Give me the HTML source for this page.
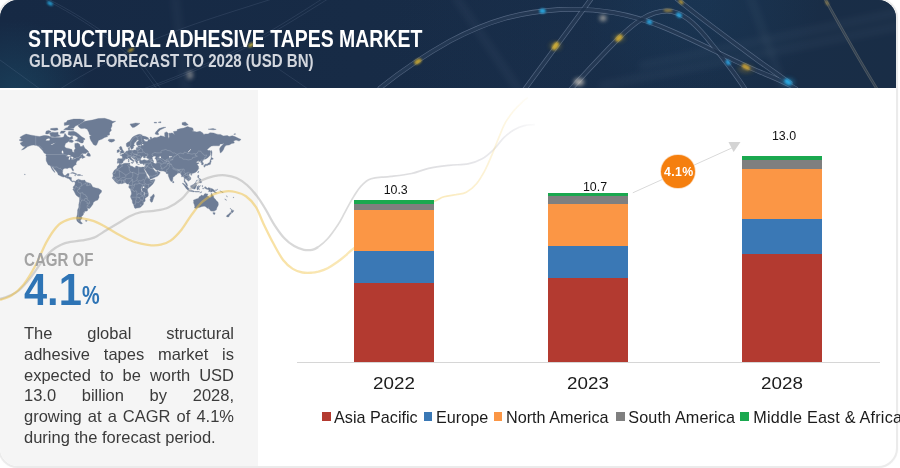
<!DOCTYPE html>
<html><head><meta charset="utf-8">
<style>
html,body{margin:0;padding:0;background:#fff;overflow:hidden;}
html{width:900px;height:468px;}
body{width:900px;height:468px;position:relative;overflow:hidden;font-family:"Liberation Sans",sans-serif;}
.card{position:absolute;left:-2px;top:-2px;width:896.4px;height:465.6px;border-radius:20px;border:2px solid #ebebeb;overflow:hidden;background:#fff;box-shadow:0 0 2px rgba(0,0,0,.04);}
.hdr{position:absolute;left:0;top:0;width:900px;height:88px;background:#182c47;}
.panel{position:absolute;left:0;top:90px;width:258px;height:380px;background:#f5f5f5;}
.t1{position:absolute;left:27.5px;top:25.8px;font-weight:bold;font-size:24px;line-height:26px;color:#fff;white-space:nowrap;transform-origin:0 0;transform:scaleX(.811);}
.t2{position:absolute;left:28.5px;top:50.6px;font-weight:bold;font-size:18px;line-height:20px;color:#d3d7de;white-space:nowrap;transform-origin:0 0;transform:scaleX(.836);}
.cagr{position:absolute;left:24px;top:249px;font-weight:bold;font-size:18.5px;line-height:22px;color:#a3a3a3;white-space:nowrap;transform-origin:0 0;transform:scaleX(.815);}
.big{position:absolute;left:24px;top:264.3px;font-weight:bold;font-size:44px;line-height:52px;color:#2e74b5;white-space:nowrap;transform-origin:0 0;transform:scaleX(.945);}
.pct{position:absolute;left:82.3px;top:279.3px;font-weight:bold;font-size:25px;line-height:32px;color:#2e74b5;transform-origin:0 0;transform:scaleX(.795);}
.body{position:absolute;left:24px;top:323px;width:210px;font-size:16.5px;line-height:20.8px;color:#3b3b3b;white-space:nowrap;}
.body .j{text-align:justify;text-align-last:justify;white-space:normal;}
.bar{position:absolute;width:80px;}
.seg{position:absolute;left:0;width:80px;}
.axis{position:absolute;left:296.5px;top:361.6px;width:583px;height:1.2px;background:#d6d6d6;}
.yl{position:absolute;top:375.2px;width:80px;text-align:center;font-size:15.8px;line-height:18px;color:#1c1c1c;transform:scaleX(1.19);}
.vl{position:absolute;width:80px;text-align:center;font-size:12.4px;line-height:14px;color:#111;}
.lg{position:absolute;top:407.5px;font-size:16.2px;line-height:18px;color:#1c1c1c;white-space:nowrap;transform-origin:0 0;}
.sq{position:absolute;top:412.4px;width:8.5px;height:8.5px;}
.c1{background:#b33a30}.c2{background:#3a78b5}.c3{background:#fb9645}.c4{background:#7f7f7f}.c5{background:#1aa84f}
svg{position:absolute;left:0;top:0;}
.badge{position:absolute;left:661.2px;top:154.6px;width:33.6px;height:33.6px;border-radius:50%;background:#f57f0e;box-shadow:0 0 0 .8px #fbd9b8;color:#fff;font-weight:bold;font-size:12.3px;line-height:34px;text-align:center;letter-spacing:.35px;text-indent:1.6px;}
</style></head><body>
<div class="card">
<div class="hdr"><svg id="hs" width="900" height="88" viewBox="0 0 900 88">
<defs>
<linearGradient id="hb" x1="0" y1="0" x2="1" y2="0"><stop offset="0" stop-color="#162944"/><stop offset=".4" stop-color="#172b46"/><stop offset=".68" stop-color="#182d48"/><stop offset="1" stop-color="#192d46"/></linearGradient>
<radialGradient id="hg1" cx="700" cy="-5" r="120" gradientUnits="userSpaceOnUse"><stop offset="0" stop-color="#1d4f78" stop-opacity=".22"/><stop offset="1" stop-color="#1f5a86" stop-opacity="0"/></radialGradient>
<radialGradient id="hg2" cx="560" cy="40" r="170" gradientUnits="userSpaceOnUse"><stop offset="0" stop-color="#26456a" stop-opacity=".06"/><stop offset="1" stop-color="#244a78" stop-opacity="0"/></radialGradient>
<radialGradient id="hg3" cx="15" cy="95" r="75" gradientUnits="userSpaceOnUse"><stop offset="0" stop-color="#1f5d78" stop-opacity=".4"/><stop offset="1" stop-color="#1f5d78" stop-opacity="0"/></radialGradient>
<filter id="b1" x="-100%" y="-100%" width="300%" height="300%"><feGaussianBlur stdDeviation="1.1"/></filter>
<filter id="b2" x="-100%" y="-100%" width="300%" height="300%"><feGaussianBlur stdDeviation="2.2"/></filter>
<filter id="b4" x="-50%" y="-50%" width="200%" height="200%"><feGaussianBlur stdDeviation="3.5"/></filter>
</defs>
<rect width="900" height="88" fill="url(#hb)"/>
<rect width="900" height="88" fill="url(#hg2)"/>
<rect width="900" height="88" fill="url(#hg1)"/><rect width="900" height="88" fill="url(#hg3)"/>
<g fill="none" stroke="#8a9ab0" stroke-opacity=".10" stroke-width="5" filter="url(#b4)">
<path d="M640,66 L900,12"/><path d="M600,86 L900,26"/><path d="M750,-4 L785,92"/><path d="M175,-4 L186,92"/><path d="M455,-4 L520,92"/>
</g>
<g fill="none" stroke-linecap="round">
<g stroke="#a9bad4" stroke-opacity=".40" stroke-width="4.8">
<path id="a1" d="M380,88 C400,72 425,55 450,41 C490,20 520,12 560,9.5 C600,8 630,14 660,26 C700,42 730,60 760,72 C775,78 788,83 796,89"/>
<path id="a3" d="M571,89 C590,68 605,52 619,38 C635,22 650,11 667,11 C682,11 695,24 706,37 C718,52 733,70 745,89"/>
<path id="a2" d="M525,89 L591,-1"/>
<path id="a4" d="M677,-1 C700,18 730,40 760,62 C772,70 782,78 790,83"/>
</g>
<g stroke="#1a2e49" stroke-opacity=".82" stroke-width="3.5">
<use href="#a1"/><use href="#a3"/><use href="#a2"/><use href="#a4"/>
</g>
<g stroke="#9a9688" stroke-opacity=".42" stroke-width="2.8"><path id="a5" d="M825,-1 C840,26 858,58 877,89"/></g>
<g stroke="#1b3049" stroke-opacity=".55" stroke-width="1.2"><use href="#a5"/></g>
<g stroke="#a9bbd6" stroke-opacity=".16" stroke-width=".8">
<path d="M44,-1 C70,12 110,36 140,66 L157,89"/><path d="M48,-1 C74,12 114,36 144,66 L161,89"/>
<path d="M60,89 C90,70 115,58 135,48 C170,32 200,22 228,13 L272,-1"/>
<path d="M148,89 C190,74 225,58 251,45 C285,26 310,10 328,-1"/><path d="M143,89 C185,74 220,58 246,45 C280,26 305,10 322,-1"/>
<path d="M258,55 L308,89"/><path d="M0,60 L40,89"/>
</g>
</g>
<g filter="url(#b1)" opacity=".85">
<ellipse cx="50" cy="3.5" rx="3.2" ry="1.8" fill="#27b4ee" transform="rotate(28 50 3.5)"/>
<ellipse cx="542.5" cy="11" rx="3.2" ry="2.5" fill="#2bb6f2"/>
<ellipse cx="649.5" cy="22" rx="3" ry="2.3" fill="#2bb0ee" transform="rotate(25 649.5 22)"/>
<ellipse cx="679" cy="15" rx="3.2" ry="2.3" fill="#2bb0ee" transform="rotate(35 679 15)"/>
<ellipse cx="728" cy="62.5" rx="3" ry="2.2" fill="#2aa6e6" transform="rotate(55 728 62.5)"/>
<ellipse cx="788" cy="82" rx="4" ry="2.5" fill="#2bb6f2" transform="rotate(35 788 82)"/>
<ellipse cx="131" cy="50" rx="3.2" ry="1.5" fill="#d8b22e" transform="rotate(-27 131 50)"/>
<ellipse cx="251" cy="45" rx="3.2" ry="1.6" fill="#d9bd3a" transform="rotate(-30 251 45)"/>
<ellipse cx="418" cy="61.5" rx="4" ry="2.3" fill="#d9b22e" transform="rotate(-33 418 61.5)"/>
<ellipse cx="555.5" cy="46" rx="4.6" ry="2.7" fill="#e0b930" transform="rotate(-54 555.5 46)"/>
<ellipse cx="619" cy="38" rx="4.2" ry="2.6" fill="#dcb330" transform="rotate(-45 619 38)"/>
<ellipse cx="746" cy="67" rx="4.4" ry="2.4" fill="#d6aa34" transform="rotate(28 746 67)"/>
<ellipse cx="668" cy="10.5" rx="4.5" ry="1.4" fill="#c9a23c" fill-opacity=".8"/>
<ellipse cx="681" cy="2" rx="3" ry="1.5" fill="#d4ac36" transform="rotate(40 681 2)"/>
<ellipse cx="827" cy="3" rx="3" ry="1.4" fill="#b79a48" fill-opacity=".7" transform="rotate(60 827 3)"/>
</g>
<g filter="url(#b2)">
<ellipse cx="603" cy="18" rx="3.2" ry="2.6" fill="#e9dccb" fill-opacity=".8"/>
<ellipse cx="579" cy="82" rx="5" ry="3.5" fill="#e6dccd" fill-opacity=".75"/>
<ellipse cx="190" cy="75" rx="3" ry="4" fill="#cfc8bd" fill-opacity=".55"/>
<ellipse cx="555.5" cy="46" rx="6" ry="4" fill="#e7bf2c" fill-opacity=".25"/>
<ellipse cx="619" cy="38" rx="6" ry="4" fill="#e7bf2c" fill-opacity=".22"/>
<ellipse cx="746" cy="69" rx="8" ry="4" fill="#c79a2a" fill-opacity=".25"/>
<ellipse cx="788" cy="82" rx="7" ry="4" fill="#2bb6f2" fill-opacity=".3"/>
</g>
</svg></div>
<div class="panel"></div>
<svg width="900" height="468" viewBox="0 0 900 468">
<defs>
<linearGradient id="gy" gradientUnits="userSpaceOnUse" x1="0" y1="0" x2="530" y2="0"><stop offset="0" stop-color="#f0c040" stop-opacity=".5"/><stop offset=".48" stop-color="#f0c040" stop-opacity=".5"/><stop offset=".62" stop-color="#f2c64c" stop-opacity=".42"/><stop offset=".84" stop-color="#f4cc5c" stop-opacity=".4"/><stop offset=".95" stop-color="#f6d470" stop-opacity=".22"/><stop offset="1" stop-color="#f6d470" stop-opacity=".04"/></linearGradient>
<linearGradient id="gg" gradientUnits="userSpaceOnUse" x1="0" y1="0" x2="540" y2="0"><stop offset="0" stop-color="#adadad" stop-opacity=".5"/><stop offset=".48" stop-color="#adadad" stop-opacity=".5"/><stop offset=".62" stop-color="#b0b0b0" stop-opacity=".46"/><stop offset=".84" stop-color="#b4b4bc" stop-opacity=".4"/><stop offset=".95" stop-color="#b8b8c2" stop-opacity=".24"/><stop offset="1" stop-color="#c0c0c8" stop-opacity=".04"/></linearGradient>
</defs>
<g id="map"><path fill="#6d7c95" stroke="#6d7c95" stroke-width=".35" stroke-linejoin="round" d="M19.0,140.0 21.5,139.1 19.9,137.3 23.3,135.2 26.1,134.1 30.2,135.0 35.7,135.9 39.5,136.6 43.8,135.5 45.7,135.5 48.8,136.0 51.9,137.6 56.2,137.6 61.2,137.6 63.6,137.1 64.9,133.3 67.4,136.6 69.8,137.6 72.3,136.0 72.9,138.6 69.8,139.6 68.6,141.6 65.5,143.5 64.6,146.2 65.8,147.9 68.6,148.4 72.0,149.6 72.3,151.7 74.2,152.5 74.2,150.1 75.4,148.8 74.8,146.6 74.8,143.5 77.9,143.0 79.8,144.4 80.1,146.6 82.2,146.4 83.2,145.0 85.0,148.4 87.2,150.1 88.8,152.1 86.9,152.5 86.0,153.5 82.2,153.5 80.4,154.9 82.9,154.3 83.2,156.0 85.3,157.1 83.5,157.9 82.2,158.6 82.2,157.5 81.6,157.7 79.8,158.4 79.3,159.4 79.8,159.9 77.3,160.8 76.3,162.6 76.0,163.3 76.3,164.5 74.8,165.3 72.9,167.0 72.8,168.3 73.6,170.1 73.3,171.1 72.4,170.6 71.8,169.3 71.1,168.0 69.8,167.8 68.0,167.9 67.7,168.6 66.7,168.4 64.9,168.2 63.0,169.3 62.7,171.2 62.5,172.8 63.6,175.0 64.6,175.5 66.1,175.3 67.0,173.8 69.2,173.5 68.9,175.3 68.3,176.9 69.8,177.0 71.4,177.5 71.4,180.0 72.3,181.2 73.9,180.9 75.1,181.5 75.4,181.5 76.3,180.3 77.9,179.6 78.8,179.1 78.8,180.0 79.8,179.5 81.0,180.3 83.5,180.3 84.7,180.1 85.3,181.2 86.9,182.4 89.1,183.0 90.9,183.7 92.2,186.0 92.2,186.6 93.4,187.2 95.9,188.1 98.4,188.4 100.2,189.6 101.5,190.5 101.5,192.0 100.2,193.6 99.0,195.1 99.0,197.6 97.7,200.1 95.6,200.8 93.4,202.3 92.9,204.2 90.9,206.9 89.7,208.4 87.8,208.2 87.0,207.9 87.8,209.6 87.2,211.0 84.7,211.3 84.4,212.8 82.9,212.8 83.8,213.8 82.5,215.7 81.3,216.4 82.2,217.9 80.4,220.3 80.7,221.5 82.5,223.4 81.0,224.1 78.8,222.7 77.0,221.1 76.3,217.9 77.3,214.9 77.6,212.0 77.6,209.9 78.8,207.2 78.8,204.6 79.5,201.3 79.6,197.8 76.7,195.7 75.7,194.5 74.5,192.0 73.6,190.5 72.8,189.3 73.6,188.4 73.1,187.2 73.6,186.3 74.2,185.7 75.1,184.2 75.1,182.4 73.9,181.3 72.9,182.1 71.7,181.5 70.5,180.6 69.8,179.6 68.9,178.7 67.4,178.2 65.8,177.5 64.6,176.8 63.3,177.1 61.8,176.5 59.9,175.6 58.1,174.7 57.8,173.5 57.1,172.2 55.6,170.6 53.7,168.6 53.1,167.2 52.0,167.0 52.2,168.0 53.4,169.6 54.8,171.7 55.0,172.5 53.7,171.4 52.2,169.6 51.4,168.0 50.6,166.3 49.7,165.3 48.4,164.9 47.5,163.4 47.2,162.7 46.3,160.9 46.1,159.0 46.3,156.6 45.8,154.9 46.9,154.5 44.1,152.9 42.6,150.5 40.7,148.4 38.8,146.6 36.4,145.5 33.3,145.0 31.4,145.3 29.2,146.0 27.7,146.6 25.8,147.9 24.0,149.2 21.5,149.9 22.7,148.8 25.2,146.6 22.7,146.2 20.9,144.4 20.2,143.0 23.3,141.6 20.9,141.1ZM73.6,131.3 76.0,132.2 79.1,134.4 81.3,136.6 84.7,138.6 85.0,139.6 82.9,140.1 83.8,140.8 82.9,143.0 81.0,143.0 78.5,141.6 76.7,141.1 74.8,140.6 77.3,139.6 77.9,137.6 74.8,135.5 70.5,135.5 68.0,134.4 68.6,131.6 70.5,131.6ZM50.6,136.6 55.0,137.1 58.1,136.6 60.5,136.0 58.1,134.4 58.1,132.2 55.0,132.4 52.5,132.2 50.0,132.7 49.4,133.9 50.6,135.0ZM45.7,133.9 48.1,133.9 50.0,132.2 51.2,131.6 48.8,130.4 46.3,131.0 45.7,132.7ZM67.4,128.0 73.6,128.3 75.4,126.1 78.5,124.7 82.9,122.0 84.7,119.8 79.8,119.1 73.6,119.1 67.4,120.6 66.1,122.7 69.8,124.7 68.0,126.7ZM63.6,129.8 73.6,130.2 73.6,129.0 66.1,127.7ZM50.6,129.8 55.0,130.4 58.1,129.8 57.4,128.0 53.7,128.2 50.6,128.6ZM64.3,125.4 69.2,124.7 68.6,122.0 64.3,122.7ZM59.9,133.3 63.6,133.3 65.5,131.0 61.2,131.0ZM69.2,142.1 72.3,142.5 73.6,141.1 71.1,139.6 69.2,140.6ZM86.4,155.4 88.4,156.2 90.3,156.2 90.4,155.4 90.0,154.1 88.6,152.5 87.6,153.3 86.9,154.5ZM70.5,173.3 72.3,172.4 74.2,172.8 76.7,174.0 77.2,174.3 75.1,174.5 74.8,173.8 72.3,173.2ZM77.0,175.3 78.5,175.6 80.7,175.5 80.4,174.6 78.5,174.5 77.8,174.5ZM77.9,125.8 81.0,123.4 84.7,121.3 92.2,120.1 98.4,118.5 104.6,118.3 109.5,119.8 112.6,121.3 115.7,121.3 112.0,123.4 112.0,126.1 110.8,128.6 111.4,130.4 109.5,132.2 109.5,135.0 107.0,135.5 107.7,136.6 104.6,137.4 102.1,139.1 99.6,139.9 98.4,140.6 97.7,142.5 96.5,145.1 95.3,145.4 93.4,144.4 92.2,142.5 90.9,140.6 90.0,138.6 89.7,136.0 91.5,135.5 89.4,134.4 88.8,132.2 87.2,129.2 84.7,128.3 81.0,128.6 79.1,127.3ZM108.0,140.1 109.5,139.2 112.0,139.3 114.2,139.3 114.8,140.6 113.9,141.3 111.7,142.2 109.2,141.7 109.5,140.8 108.3,140.7ZM24.6,174.1 25.2,174.3 25.1,174.8 24.6,174.7ZM85.3,220.5 87.2,220.5 86.9,221.3 85.7,221.3ZM74.6,175.3 75.9,175.5 75.4,175.8 74.6,175.6ZM81.5,175.3 82.5,175.4 82.4,175.7 81.5,175.6ZM117.3,163.3 117.4,162.1 117.7,160.4 117.4,159.0 118.2,158.5 120.7,158.7 122.0,158.7 122.4,157.5 122.4,156.8 121.6,155.8 120.2,155.3 120.2,154.8 122.2,154.8 122.0,153.9 123.3,154.1 124.2,153.0 125.3,152.6 126.1,151.3 127.5,150.9 128.6,150.6 128.5,149.2 128.2,147.9 129.7,147.3 129.5,148.8 129.4,150.0 130.0,150.5 130.9,150.1 132.0,150.6 134.6,149.9 135.6,150.1 136.2,149.4 136.2,147.9 137.1,147.3 138.2,147.8 138.2,146.8 137.7,146.0 139.3,145.7 140.5,145.8 141.9,145.4 140.8,144.8 139.3,144.9 137.4,145.4 136.4,144.6 136.5,142.5 138.7,140.6 138.8,140.1 136.8,139.8 136.5,141.1 134.3,143.0 133.8,144.4 134.8,145.5 133.4,146.6 133.4,148.1 132.0,149.2 131.1,149.3 130.9,148.5 130.1,146.8 129.7,145.9 129.1,146.5 127.5,147.1 126.6,146.4 126.3,144.9 126.3,143.5 127.5,142.5 129.7,141.3 130.9,139.6 132.2,137.6 134.0,136.2 135.6,135.5 137.4,134.8 139.2,134.3 140.8,134.5 142.4,135.2 141.4,135.8 143.6,136.1 145.5,136.5 148.3,137.8 148.6,138.9 147.0,139.6 144.2,138.9 143.6,139.3 144.7,141.2 146.7,141.5 148.0,141.0 148.0,139.6 150.4,139.4 150.1,137.1 151.7,137.4 151.7,138.8 154.2,137.6 156.6,137.4 159.1,136.8 160.7,135.7 162.8,136.2 165.3,137.1 164.7,135.5 164.7,132.7 166.6,131.9 168.3,133.3 168.1,136.6 168.7,138.6 169.3,137.1 169.0,133.3 170.3,133.3 171.5,133.0 173.1,133.3 174.6,135.0 174.0,133.3 173.4,131.5 177.1,131.0 177.1,129.6 180.8,128.6 183.9,128.0 187.6,126.4 189.5,127.3 192.6,128.0 193.5,130.4 191.4,131.0 193.2,131.3 196.9,132.0 200.0,131.3 202.5,132.7 203.8,134.4 205.6,133.9 208.1,133.9 210.0,132.7 213.7,133.0 216.2,133.9 218.0,134.4 220.5,134.4 222.4,135.5 223.6,135.9 227.3,135.5 229.2,136.6 232.3,135.7 234.8,136.6 237.9,138.1 241.1,139.5 239.1,141.1 236.0,140.1 233.5,140.9 234.4,143.0 231.7,143.5 229.2,144.9 226.1,145.3 224.5,147.1 223.9,148.6 223.5,149.6 222.4,151.3 221.1,152.5 220.3,152.9 219.9,151.3 219.6,148.8 220.5,147.1 221.7,145.8 223.0,144.4 224.2,143.0 222.4,143.9 220.2,143.9 219.3,145.8 216.8,145.8 213.7,145.8 211.5,146.0 209.3,147.5 207.0,149.8 208.4,150.5 210.0,150.5 210.8,151.3 210.3,152.9 210.3,154.9 209.0,156.4 207.5,157.9 205.6,159.1 204.4,159.3 203.8,159.4 203.6,160.1 202.3,161.3 203.4,163.3 203.3,164.4 201.9,165.0 201.5,164.6 201.7,163.3 200.7,162.6 201.0,161.5 200.2,161.2 198.8,161.8 198.5,160.6 196.9,161.7 196.2,162.0 196.9,162.9 198.2,162.8 199.2,163.1 197.7,163.9 197.1,164.6 197.9,165.6 198.7,166.8 198.5,168.0 198.8,168.3 198.2,169.3 197.4,170.6 196.6,171.4 195.7,172.2 194.0,172.9 192.0,173.6 191.4,174.2 191.1,173.5 190.1,173.4 189.3,174.1 188.8,175.0 189.5,176.3 190.6,177.2 190.9,179.0 190.1,180.0 189.4,180.3 188.4,181.3 188.1,180.6 187.0,180.0 186.4,179.2 185.7,178.5 185.2,179.0 184.8,180.3 185.3,181.5 186.1,182.5 187.0,183.6 187.3,184.8 187.8,185.8 186.7,185.4 186.0,184.8 185.4,183.3 185.0,182.5 184.1,181.7 184.2,180.3 184.3,178.7 183.7,176.7 182.7,176.6 181.6,176.9 181.6,175.3 180.5,173.8 180.1,172.9 179.0,173.1 177.7,173.3 177.1,173.8 176.8,174.4 175.9,174.8 174.2,176.5 172.9,177.2 172.9,178.6 172.6,180.4 172.1,181.0 171.5,181.5 171.2,181.7 170.5,180.7 169.7,179.2 169.0,177.5 168.4,176.0 168.3,175.0 168.2,173.8 167.9,173.6 167.1,173.9 165.9,172.9 166.6,172.6 165.6,172.2 164.8,171.4 163.2,171.0 161.3,171.1 159.1,170.8 158.5,169.9 156.9,170.2 155.7,169.6 154.7,168.5 154.2,167.9 153.4,167.8 152.9,168.1 153.2,169.0 154.2,170.1 154.3,170.8 155.1,170.7 155.2,171.6 156.6,171.7 158.0,170.5 158.2,171.6 159.6,172.1 160.2,172.8 159.4,174.1 158.8,175.0 157.3,176.3 155.4,177.1 153.4,178.1 151.1,178.9 150.1,178.9 149.7,177.6 149.6,176.6 148.6,175.0 147.5,173.5 146.2,171.6 144.9,169.3 144.7,168.3 144.4,169.4 143.4,168.0 143.2,167.1 144.4,167.1 144.9,166.0 145.4,164.6 145.5,163.5 144.2,163.7 143.3,163.9 142.1,163.4 141.1,163.7 140.1,163.4 139.5,162.4 139.7,161.7 139.4,160.9 141.1,160.4 142.7,160.3 143.9,159.7 145.0,159.7 145.8,160.2 147.0,160.4 148.9,160.1 148.9,159.2 147.8,158.6 146.3,157.5 147.0,156.4 147.5,155.9 144.9,156.5 145.8,157.2 144.9,157.7 143.9,157.9 143.3,157.2 144.0,156.7 142.4,156.3 141.6,157.4 140.9,158.4 140.5,159.4 140.6,160.1 141.1,160.4 139.9,160.7 139.3,160.9 138.0,160.6 137.9,161.0 137.3,160.9 137.5,161.9 138.0,162.6 137.5,163.1 137.3,163.6 136.6,163.4 136.3,162.4 135.6,161.4 135.2,160.2 135.1,159.6 134.0,159.0 132.6,158.1 132.2,157.4 131.7,157.1 130.8,157.3 130.8,158.1 131.6,158.6 132.8,159.7 133.1,159.9 134.6,161.0 133.7,160.8 133.4,161.5 133.8,161.9 133.1,162.6 132.9,162.6 133.1,161.5 132.5,161.0 132.0,160.6 130.8,159.9 129.7,159.0 129.4,158.3 128.6,158.0 127.8,158.4 126.9,158.9 126.0,158.7 125.1,158.8 125.1,159.6 124.5,160.2 123.5,160.8 123.0,161.6 123.2,162.1 122.7,162.8 121.8,163.4 120.4,163.5 119.8,163.9 119.3,163.5 118.6,163.1 117.6,163.3ZM119.5,164.1 121.9,164.5 123.8,163.6 125.0,163.3 127.5,163.3 129.4,163.1 130.0,163.3 129.7,164.3 129.5,165.1 130.0,165.6 130.9,166.1 132.6,166.5 133.7,167.3 134.9,167.8 135.6,167.3 135.6,166.3 136.8,166.1 138.7,166.9 141.1,167.3 142.4,167.0 143.2,167.1 143.4,168.0 143.9,169.3 144.6,170.6 145.2,171.9 146.1,173.1 146.3,174.1 146.3,175.0 147.0,175.6 147.7,177.2 148.9,178.4 149.9,179.0 150.0,179.6 150.8,180.3 152.3,179.8 154.9,179.4 154.8,180.3 153.8,182.4 152.9,183.9 151.7,185.2 149.8,186.9 148.9,187.7 148.1,188.3 147.7,189.1 147.3,190.3 147.7,190.8 147.7,192.0 148.3,192.9 148.3,195.4 148.0,196.3 146.1,197.4 144.9,198.7 145.2,200.1 145.1,201.3 143.6,202.3 143.6,203.3 143.3,204.4 142.4,205.2 140.8,207.1 139.3,207.8 136.8,208.0 135.6,208.4 134.6,208.0 134.3,206.9 133.4,204.3 132.5,202.9 132.2,200.4 130.6,197.2 130.5,196.3 131.5,193.9 131.3,191.9 130.7,190.2 130.6,189.5 129.1,187.8 128.6,187.0 129.1,186.0 129.1,184.3 128.4,183.9 126.9,184.0 126.0,182.8 124.7,182.8 123.8,183.1 121.9,183.7 120.7,183.5 118.5,183.9 117.6,183.6 116.0,182.5 115.0,181.5 114.7,180.9 113.9,180.0 112.8,179.0 112.3,177.7 112.9,176.9 113.2,175.0 112.6,173.8 113.2,172.2 114.2,170.6 115.1,169.5 116.3,168.8 117.1,168.3 117.2,167.7 117.1,167.0 117.9,165.8 118.8,165.3ZM153.7,193.9 154.5,196.0 153.8,197.6 152.8,200.4 152.3,202.0 151.2,202.3 150.3,201.0 150.0,199.7 150.6,198.5 150.4,196.9 151.7,196.2 152.9,194.8ZM119.6,153.7 121.3,153.2 124.0,152.7 124.2,151.5 123.3,151.3 123.0,150.1 122.2,149.2 121.9,147.3 121.0,147.3 121.3,146.6 120.1,146.6 119.3,147.5 119.8,148.8 120.2,149.8 121.3,150.5 121.3,151.1 120.4,151.1 120.6,151.9 119.9,152.3 121.3,152.6 120.5,152.9ZM117.0,152.4 119.3,151.9 119.4,150.5 119.7,150.0 118.8,149.4 117.9,149.9 117.0,150.3 117.3,151.3 116.8,152.1ZM130.0,124.1 132.5,123.7 135.6,123.0 139.9,123.4 136.8,125.7 134.3,127.3 132.5,127.6 131.2,126.1ZM155.1,133.9 157.3,134.7 158.8,134.6 157.9,132.2 160.4,129.8 164.1,128.0 165.9,127.3 163.5,127.3 159.1,128.6 156.6,131.0 155.4,132.7ZM182.1,124.7 185.2,125.7 188.3,124.7 185.2,122.0 182.1,122.7ZM208.1,129.2 213.1,129.8 216.2,129.4 213.1,128.6ZM154.2,123.0 156.6,123.1 156.6,122.3 154.2,122.3ZM158.5,122.6 161.0,122.7 161.0,121.8 158.5,122.0ZM233.8,134.4 235.7,134.2 235.4,133.7 234.0,133.9ZM211.2,150.2 212.0,152.1 211.9,154.1 211.6,156.0 211.2,156.8 211.2,154.5 211.0,152.1ZM210.0,160.1 210.9,159.0 211.1,157.2 212.8,158.3 213.4,158.8 211.8,159.7 210.6,159.5ZM210.9,160.2 211.2,161.5 210.6,162.9 210.5,164.2 209.8,164.6 209.0,164.8 208.1,164.9 207.4,165.6 206.9,165.0 205.6,165.1 204.4,165.3 204.4,164.9 205.3,164.3 207.2,164.2 208.0,163.4 208.3,162.9 209.0,163.1 209.7,162.2 210.0,161.2 210.1,160.3ZM203.8,165.6 204.9,165.5 205.0,166.1 204.7,167.0 204.1,167.3 203.9,166.3 203.6,166.0ZM205.3,165.3 206.6,165.1 206.4,165.6 205.6,166.1 205.2,165.8ZM198.5,171.1 198.7,171.6 198.1,173.1 197.6,172.5 198.2,171.2ZM190.7,174.4 192.0,174.4 191.7,175.3 190.6,175.1ZM197.9,175.3 198.9,175.3 198.8,176.6 198.5,177.5 200.0,178.7 199.7,179.0 198.8,178.2 198.1,178.1 197.6,176.9ZM198.8,182.4 199.7,181.5 201.0,180.7 201.6,182.1 201.1,183.0 200.0,182.7ZM200.2,179.0 201.0,179.2 201.1,180.0 200.7,180.6 200.3,180.0ZM198.8,179.5 199.5,179.6 199.7,180.6 199.4,181.0 199.0,180.6ZM195.9,181.5 197.2,179.8 197.4,180.2 196.2,181.6ZM190.7,185.7 191.1,185.4 192.0,185.5 192.2,184.9 193.2,184.7 194.5,183.6 195.6,182.4 196.2,182.8 196.9,183.5 196.3,183.9 196.2,185.1 196.9,186.0 196.0,186.3 196.0,187.2 195.4,188.1 195.1,189.0 194.2,189.0 193.0,188.6 192.3,188.4 191.4,187.7 190.7,186.9ZM182.2,183.2 183.6,183.5 185.3,184.9 187.3,186.6 187.9,187.8 188.9,188.5 188.8,190.1 187.8,190.0 186.6,189.0 185.5,187.5 184.4,185.7 183.3,184.6ZM188.4,190.5 190.4,190.5 191.9,190.5 193.1,190.8 194.2,191.2 194.1,191.9 192.0,191.6 190.1,191.3 189.1,191.0ZM194.5,191.5 196.9,191.6 199.4,191.6 199.4,192.0 196.9,192.0 194.8,191.9ZM199.7,192.8 201.9,191.7 202.0,191.9 200.3,192.9ZM197.2,189.9 197.2,188.7 196.8,188.2 197.4,186.6 198.1,185.8 199.4,186.1 200.7,185.6 200.0,186.4 198.2,186.4 197.7,187.2 198.5,187.2 199.6,187.1 198.7,187.7 199.1,188.7 199.4,189.9 198.8,189.4 198.2,188.2 198.1,188.7 197.8,189.9ZM202.2,185.4 202.8,185.7 202.5,186.6 202.8,187.1 202.3,186.8 202.2,186.0ZM202.5,188.4 204.3,188.4 204.1,188.8 202.5,188.7ZM204.4,187.1 205.3,186.8 206.2,187.1 206.4,188.1 207.2,188.6 208.1,187.7 209.0,187.7 210.6,188.2 212.8,188.9 213.6,189.8 214.6,190.2 214.3,190.7 215.2,191.8 216.6,192.8 216.2,193.0 214.6,192.6 213.7,191.7 212.4,191.2 211.8,192.0 210.6,192.1 209.7,191.4 208.7,191.7 208.7,190.8 209.2,190.6 208.6,189.8 207.2,189.3 205.9,189.0 205.5,188.6 205.1,188.3 206.1,188.0 205.0,187.8 204.4,187.4ZM215.1,190.0 216.5,189.9 217.5,189.1 217.6,189.6 216.7,190.3 215.2,190.2ZM219.9,190.7 222.4,192.0 223.3,192.6 222.4,192.5 220.2,191.1ZM224.8,198.9 226.6,200.1 226.4,200.3 224.8,199.2ZM233.1,197.2 233.9,197.3 233.8,197.7 233.1,197.6ZM226.4,195.7 226.9,195.9 227.3,197.2 227.0,196.6ZM172.8,180.7 173.6,181.5 173.9,182.4 173.4,182.9 172.8,183.0 172.6,181.8ZM193.5,200.1 193.8,202.6 193.4,202.6 194.2,204.2 194.8,206.2 194.5,208.0 196.3,208.6 197.6,207.8 200.0,207.2 201.3,206.7 203.1,206.3 204.7,206.2 206.2,207.0 207.4,208.4 208.5,207.2 208.4,208.6 209.0,208.9 209.7,209.3 210.3,210.6 212.1,211.2 213.1,210.8 213.9,211.4 214.9,210.5 216.2,210.1 216.7,208.6 217.1,207.2 218.0,205.9 218.4,204.2 218.0,202.3 216.8,201.0 215.8,200.1 215.2,198.9 213.9,198.1 213.7,196.9 213.3,195.7 212.8,195.2 212.1,194.2 211.6,193.1 211.2,193.9 211.0,195.4 210.6,196.9 210.0,197.4 208.7,196.6 207.5,196.0 207.2,195.4 208.0,194.0 206.9,193.9 205.3,193.4 204.4,194.0 203.6,195.6 202.8,195.7 201.9,195.1 201.0,195.4 200.0,196.5 199.0,196.9 198.9,197.6 198.2,198.6 196.9,198.8 195.7,199.2 194.5,199.7ZM212.9,212.6 214.0,212.8 215.1,212.7 215.0,213.6 214.6,214.4 214.0,214.6 213.4,214.1 213.2,213.5ZM230.2,208.2 231.0,208.8 231.5,209.8 232.2,209.7 232.3,210.4 233.5,210.4 233.8,210.4 233.5,211.5 232.9,211.7 232.8,212.3 231.8,213.2 231.4,213.0 231.8,212.2 231.5,211.9 230.9,211.5 231.5,210.8 231.5,210.1 231.2,209.5 230.4,208.7ZM230.2,212.4 231.2,212.9 231.0,213.4 230.4,214.2 230.2,214.8 229.4,215.2 229.1,216.4 228.2,216.9 227.5,216.9 226.4,216.4 226.5,215.9 227.3,215.1 228.6,214.2 229.3,213.7 229.8,212.7ZM130.9,162.6 132.8,162.4 132.6,163.5 131.0,162.8ZM128.2,160.4 129.2,160.4 129.1,161.7 128.4,161.9ZM128.5,159.1 129.1,159.1 129.0,160.1 128.6,160.0ZM137.7,164.2 139.5,164.4 139.4,164.6 137.8,164.5ZM143.2,164.6 144.6,164.2 144.2,164.7 143.4,164.9Z"/><path fill="none" stroke="#c9d0db" stroke-opacity=".55" stroke-width=".45" stroke-linejoin="round" d="M35.7,135.9 35.7,145.0 38.2,146.3 39.5,145.8 42.6,149.2M46.9,154.5 64.3,154.5 67.7,155.3 70.8,156.4 72.0,157.3 72.0,159.4 74.2,159.0 75.7,158.3 76.7,157.5 78.8,157.5 80.3,155.7 81.1,156.0 81.6,157.5M50.6,166.3 52.0,166.2 54.3,167.1 56.1,167.1 57.1,166.8 58.4,168.2 59.3,168.6 60.2,168.1 61.5,169.6 62.9,170.7M66.0,177.8 66.7,175.8 67.9,175.8 67.9,176.9M67.9,177.9 68.8,178.6M69.8,177.5 71.6,177.6M70.0,179.9 71.3,180.0M71.7,180.8 71.8,181.7M78.8,179.3 78.2,181.2 78.5,182.4 81.3,182.9 81.6,185.9M81.6,185.9 83.5,184.2 85.3,183.6 86.0,183.5 86.0,181.5M86.0,183.5 86.6,185.8 88.1,185.5 89.4,185.2 90.5,185.3 91.1,184.0M87.7,183.0 87.5,185.4M89.7,183.1 89.4,185.2M81.6,185.9 79.8,186.6 79.8,189.1 77.9,189.6 77.3,191.1 78.2,192.3 79.5,193.2 80.1,193.2 82.7,192.6 82.9,193.9 85.7,194.9 86.0,196.4 87.0,196.5 87.3,197.6 87.2,198.8 87.3,200.1 88.6,200.3 89.5,201.3 89.3,202.4 89.8,203.4 88.6,204.1 87.4,205.3 88.4,205.9 90.1,207.7M73.4,188.6 74.2,189.6 74.6,188.6 76.3,187.2 76.5,186.7 75.4,186.4 74.2,185.7M76.5,186.7 77.9,188.0 79.8,188.1 79.8,189.1M80.1,193.2 80.4,194.5 80.4,196.0 80.1,197.2 79.6,197.7M80.1,197.2 80.7,198.2 80.9,199.7 81.6,200.7 82.1,199.9 83.2,200.2 84.3,200.2 84.6,199.1 84.8,198.6 86.6,198.4 87.1,198.9M84.3,200.2 85.3,201.2 87.4,202.2 86.8,203.4 88.4,203.5 89.3,202.4M87.4,205.3 87.1,207.2 87.0,207.9M81.6,200.7 80.7,202.0 80.1,203.9 79.8,205.9 79.8,207.9 79.1,209.9 78.8,212.0 78.6,214.9 78.5,217.2 77.9,219.5 78.5,220.9 80.7,221.3M117.7,159.8 119.1,159.9 118.8,161.4 118.6,163.1M122.0,158.7 125.1,159.4M124.7,152.8 126.9,154.1 128.2,154.5 127.9,155.6 126.9,156.6 127.5,156.8 127.5,158.1 127.8,158.4M127.5,151.1 126.9,152.3 126.9,153.1 126.9,154.1M132.0,150.6 132.3,152.9 130.7,153.5 131.7,154.7 131.2,155.6 129.1,155.6 127.9,155.6M135.4,150.1 137.3,150.1 137.7,151.3 137.8,152.5 138.0,153.3 137.2,154.4 134.9,154.1 132.3,152.9M127.5,156.8 129.7,156.2 131.7,156.4 131.7,157.1M131.7,156.4 133.1,156.2 133.4,155.3 133.7,154.6 137.2,154.4M133.1,156.2 135.7,156.6M131.7,157.1 133.4,156.5 134.9,156.8 134.9,157.6 133.0,157.4 134.1,159.1M134.9,157.6 135.3,158.8 135.2,159.8M130.1,146.2 130.8,144.4 130.7,142.1 132.2,139.6 133.7,137.6 135.9,136.6 138.0,136.8 139.2,135.9 140.5,135.5 141.1,136.0M135.9,136.6 137.7,137.8 138.0,139.8M141.1,136.0 141.1,138.1 141.8,140.1 141.8,141.8 142.7,142.7 140.4,144.9M140.5,145.8 140.2,147.5 140.6,148.6 142.3,149.1 142.7,151.1 143.0,151.9 144.4,152.3 145.2,153.4 146.7,153.8 148.0,154.0 147.8,155.4 146.8,155.9M137.8,152.5 139.9,152.4 142.1,152.7 143.0,151.9M137.7,150.5 139.2,150.2 139.7,149.1 140.6,148.6M136.2,148.8 139.7,149.1M136.5,147.4 138.7,147.2 140.2,147.5M137.2,154.4 136.9,155.1 138.6,155.5 139.7,155.0 140.6,157.1 141.5,157.3M136.9,155.1 135.7,156.6 137.1,157.8 137.2,158.3 139.0,158.5 140.8,158.5M137.2,158.3 137.0,159.5 139.5,159.9 140.5,159.7M135.6,161.4 136.2,160.6 137.4,160.2 139.5,159.9M135.2,159.8 135.9,159.8 136.2,160.6M139.5,159.9 139.4,160.7M148.9,160.1 150.1,160.4 150.9,161.4 150.6,162.6 150.9,163.1 149.4,163.2 145.9,163.4 145.5,163.9M148.0,158.7 150.1,159.2 152.0,159.9 153.3,159.9M150.1,160.4 152.0,159.9M151.1,160.3 152.0,161.9 152.9,161.5M150.9,161.4 152.9,161.5 153.5,162.3M156.6,163.1 157.9,162.5 159.9,162.9 161.1,163.5 161.0,164.6 160.7,165.6 160.9,167.0 161.5,167.5 160.9,168.1 162.3,169.8 161.4,171.1M150.9,163.1 151.7,164.6 151.4,165.3 152.8,167.0 153.2,168.0M149.4,163.2 148.7,164.8 147.2,165.7 147.5,166.5 150.9,168.5 152.0,168.6 152.9,168.0M147.5,166.5 146.1,167.0 146.7,167.7 146.4,168.0 145.5,168.5 144.9,168.4M147.2,165.7 146.0,166.5 145.4,166.2M145.2,165.8 145.9,165.2 145.5,164.9M144.4,167.1 144.8,168.3M145.2,165.9 145.2,167.0 144.9,168.2M152.0,168.6 152.6,169.0 153.2,169.0M149.7,176.6 149.9,176.0 152.3,176.3 155.4,175.0 157.4,174.4 157.7,173.1 157.4,172.7 155.8,172.6 155.2,171.8M155.4,175.0 156.1,176.5M157.4,172.7 157.9,171.3 158.1,171.3M154.7,171.4 154.9,171.5M138.7,166.9 138.7,173.1 146.0,173.1M130.3,165.9 129.4,167.7 129.1,167.9 129.4,170.3 130.6,172.2 132.0,172.8 133.1,172.2 138.0,174.7 138.0,174.4 138.7,174.4 138.7,173.1M128.5,163.3 128.2,165.0 127.8,165.4 128.7,166.7 129.1,167.9M121.8,164.6 122.4,166.3 120.9,166.9 120.1,168.0 117.8,168.8 117.8,169.5M115.1,169.5 117.8,169.5 117.8,170.6 115.7,170.6 115.7,172.3 115.1,172.5 115.1,173.6 112.6,173.6M117.8,169.7 120.2,171.2 123.9,173.7 125.1,174.5 125.2,175.0 125.8,175.0 126.8,174.7 130.6,172.2M120.2,171.2 119.1,171.2 119.8,176.6 119.9,177.2 116.4,177.3 115.6,177.6M112.9,176.8 114.3,176.5 115.6,177.6M125.8,175.0 125.8,176.6 125.3,177.3 123.3,177.5 122.7,177.5 121.9,177.9 120.5,178.6 119.8,179.5 119.8,180.3M115.6,177.6 116.1,179.1 118.0,180.0 118.2,180.4M112.8,179.1 114.7,179.0 116.1,179.1M113.9,180.0 114.7,179.5 114.7,179.0M112.7,178.4 114.6,178.4M132.0,172.8 132.5,172.5M132.5,172.5 132.8,173.8 132.8,176.3 131.5,177.9 131.6,178.3M125.4,179.5 125.7,178.4 127.5,178.7 129.4,178.5 131.6,178.3M138.0,174.7 138.0,177.1 137.4,177.1 136.8,178.9 137.4,180.0M137.4,180.0 134.9,181.2 132.8,182.1M128.4,183.8 129.4,182.4 130.6,181.3 131.7,180.0 132.2,178.9M132.2,178.9 132.8,180.6 131.8,180.8 132.8,182.1 132.2,183.9 133.2,185.3 131.4,185.3 130.2,185.3 129.2,185.2M129.2,186.0 130.2,186.0 130.2,185.3M131.4,185.3 131.8,185.8 132.2,186.9 132.1,187.8 130.5,188.8 130.0,189.0M147.1,175.6 146.1,176.3 145.8,177.9 145.5,178.9 144.3,180.3 144.4,181.5 143.6,181.9 144.9,183.3 145.5,183.9M145.8,177.9 146.7,177.7 148.0,177.9 149.4,179.0M137.7,181.2 139.3,180.6 140.5,180.9 141.8,180.6 143.3,179.3 144.3,180.3M137.7,181.2 140.1,183.5M149.8,179.8 149.7,180.0 150.4,181.2 152.3,181.8 152.9,181.8 151.1,183.6 149.2,184.1 148.6,184.3 147.7,184.6 146.7,184.4 145.5,183.9 144.2,184.1 144.9,185.7 144.2,186.6 144.2,187.2 146.5,188.5 147.5,189.4M148.6,184.3 148.6,187.1 149.0,187.6M142.3,184.5 144.2,184.1M152.9,181.8 153.5,179.8M133.2,185.3 134.7,184.5 134.7,183.9 137.1,184.1 138.7,183.5 140.1,183.5 142.3,184.5 142.5,185.3 141.5,187.4 141.1,188.2 141.3,189.3 141.4,190.2 142.2,191.5 140.8,192.2 140.9,193.9 141.6,194.0 141.1,194.7 139.9,193.9 138.0,193.2 138.0,194.5 136.8,194.5 136.8,193.2 136.7,191.0 135.2,190.8 134.9,191.4 133.7,191.4 133.5,190.2 131.2,190.2 130.7,190.1M134.7,184.5 134.2,186.9 133.1,188.0 133.1,189.0 132.1,189.6 131.2,189.4M141.5,187.4 142.1,187.2 144.2,187.2M141.1,188.2 142.3,188.0 142.1,187.2M141.3,189.3 142.3,188.6 142.3,188.0M130.5,197.1 131.8,197.2 134.6,197.2 137.7,197.3 138.8,197.4M136.8,194.5 136.8,196.4 137.7,197.3M136.2,197.7 136.2,200.1 135.6,200.1 135.6,201.8 135.6,204.2M133.4,204.3 135.6,204.2M135.6,201.8 137.2,202.3 139.0,202.4 139.9,201.1 141.4,200.2M138.8,197.4 139.9,197.6 141.1,196.3 142.0,196.1 143.6,196.7 143.5,198.5 143.2,199.6 142.6,200.3 141.4,200.2 140.3,199.1 138.8,197.4M142.6,200.3 143.0,201.6 143.0,203.1 143.6,203.2M142.0,196.1 141.9,195.6 143.7,195.1 143.4,194.8 143.8,193.6 143.6,192.3M143.7,195.1 144.6,195.5 145.4,196.3 145.0,196.9 144.5,196.3M144.8,193.6 146.4,193.7 148.2,192.9M142.2,191.5 143.6,192.3 144.3,192.3M124.8,182.7 124.9,181.2 125.4,179.5M124.2,182.9 124.2,181.2 123.7,180.0M123.9,182.9 123.5,181.8 123.2,180.0M121.4,183.5 121.5,181.8 121.4,180.0M123.2,180.0 121.4,180.0 119.8,180.3 118.2,180.4M125.4,179.5 124.5,179.2 123.7,180.0M118.5,183.9 118.0,182.7 118.0,182.0 118.2,180.4M116.0,182.4 116.8,181.5 118.0,182.0M114.9,181.2 116.6,180.6 116.8,181.5M140.0,205.0 140.6,204.4 141.4,204.8 140.7,205.5 140.0,205.0M153.5,156.5 152.3,155.3 152.0,154.9 152.3,153.7 153.4,153.2 154.8,152.4 156.9,152.9 159.4,152.9 161.3,152.7 161.0,151.3 161.6,150.5 163.5,150.1 165.9,149.4 167.2,150.3 168.7,150.6 170.9,151.1 172.8,153.1 174.6,152.9 176.2,154.0 177.3,154.3M177.3,154.3 179.0,153.5 180.5,153.1 183.6,153.9 184.2,152.1 186.4,152.6 187.0,153.5 189.2,153.5 192.0,154.2 194.2,153.5 195.5,153.9M195.5,153.9 197.2,153.3 197.9,151.7 198.5,151.1 201.0,151.3 202.2,153.5 204.1,154.6 204.4,155.5 206.7,154.9 205.7,157.4 204.5,157.7 204.4,159.0 204.1,159.4M177.6,154.3 179.6,156.4 179.5,157.4 182.4,158.0 182.9,159.2 185.8,159.3 188.3,159.9 191.1,159.4 192.6,158.5 192.6,157.5 194.8,157.2 197.4,156.2 196.2,155.5 195.0,155.4 195.5,153.9M177.3,154.3 176.3,155.9 174.6,155.9 174.2,157.1 172.9,157.5 172.9,159.6 170.8,160.4 168.8,161.5 169.5,163.1M169.5,163.1 171.4,164.3 172.1,166.3 173.4,167.9 175.9,169.1 177.8,169.4 178.3,169.7 180.2,170.0 180.2,169.4 183.5,169.2 184.4,169.6 184.2,171.2 183.7,171.9 184.7,173.1 185.9,173.6M185.9,173.6 186.5,172.9 188.4,172.3 189.3,173.0 190.1,173.4M200.2,161.2 201.8,159.9 202.6,160.2 204.1,159.4M201.3,162.7 202.8,162.1M155.7,159.9 157.1,160.2 157.9,160.2 157.9,157.5 159.4,157.1 161.0,158.0 161.6,158.6 164.1,159.8 164.4,160.4 165.3,160.4 166.9,159.6 167.3,159.1 168.7,159.0 169.2,158.8 172.9,159.6M157.9,160.2 159.4,159.2 160.4,159.6 161.5,160.4 164.4,163.0M165.3,160.4 166.9,161.0 166.1,161.5 168.8,161.5M164.4,160.4 165.2,161.5 165.2,163.1M166.9,159.6 167.2,160.3 168.5,160.6 168.8,161.5M161.1,164.2 163.2,163.7 164.4,163.0 165.3,163.3 166.6,162.8 167.6,163.5 169.5,163.1M169.5,163.1 167.3,163.9 167.2,165.3 166.2,166.0 166.1,166.7 164.3,167.4 164.3,168.1 161.9,168.4 160.9,168.1M171.4,164.3 169.0,164.8 169.2,166.0 169.9,166.5 169.3,167.3 168.4,168.0 167.7,169.4 166.7,169.4 166.2,170.1 166.7,170.8 167.2,171.6 165.8,171.7 165.4,172.1M173.4,167.9 172.8,168.8 174.6,169.7 176.4,170.2 177.8,170.3 177.8,169.4M177.8,170.3 178.3,170.4 178.2,171.1 177.8,171.6 178.2,172.5 178.3,173.3M178.3,170.4 178.8,170.6 180.4,171.2 179.7,172.1 180.4,172.2 180.6,173.6 180.3,173.9M178.3,169.7 178.3,170.1 180.2,170.0M183.5,169.2 182.2,170.1 181.6,171.9 181.0,171.9 180.9,173.0 180.6,173.6M185.9,173.6 185.2,174.2 183.9,174.6 183.6,175.3 184.4,176.7 184.0,177.4 184.7,178.9 184.4,180.4M185.2,174.2 185.5,174.7 185.9,174.7 185.8,175.8 186.5,175.5 187.6,175.5 188.1,176.6 188.6,177.2 188.6,177.9 186.6,178.4 187.0,179.5M189.8,177.8 189.8,179.2 188.8,179.6 187.9,180.3M186.5,172.9 187.0,173.8 188.2,174.4 187.6,174.8 188.4,175.5 189.8,176.8 189.8,177.8 188.6,177.9M185.2,182.7 185.8,183.1 186.5,182.9M191.1,185.4 191.4,185.9 192.6,185.8 194.2,185.8 194.8,184.8 194.8,184.0 196.0,184.1M210.6,188.2 210.6,192.1M200.0,192.2 200.8,192.2 200.6,192.0"/><path fill="#f5f5f5" d="M66.1,156.2 68.6,154.7 70.5,155.4 70.6,156.3 69.2,156.4 67.4,156.2ZM68.7,159.7 69.7,159.7 70.5,157.0 69.5,156.9 68.7,158.3ZM70.8,156.8 72.6,156.8 73.6,157.8 72.5,158.8 72.0,158.8 71.4,157.9ZM71.5,159.9 74.2,159.1 74.2,158.8 75.7,158.6 75.9,158.3 73.9,158.5 73.6,159.3 71.7,159.6ZM45.7,140.4 49.4,140.6 50.0,138.8 48.1,138.6 46.3,139.4ZM50.6,144.4 54.3,143.2 55.6,142.6 53.7,144.1 51.9,144.7ZM61.8,153.3 63.5,153.4 63.0,150.6 61.8,150.9ZM152.3,157.5 153.5,156.4 155.1,156.2 156.0,157.1 154.8,157.9 154.3,158.0 155.9,159.2 155.8,160.1 156.5,160.8 156.6,161.9 156.5,163.3 155.1,163.5 154.2,163.0 153.5,162.4 153.8,160.9 152.9,159.7 152.6,158.6ZM159.4,156.4 161.0,156.4 161.0,158.1 159.4,158.3ZM187.6,152.5 188.9,152.1 191.1,149.2 190.7,149.0 188.6,151.3ZM142.9,186.4 144.2,186.5 144.2,188.1 143.0,188.1ZM169.0,156.2 172.1,156.5 172.1,157.0 169.0,157.4ZM141.8,143.9 143.3,143.9 143.3,145.3 142.4,145.3ZM141.3,188.7 141.8,188.7 142.4,191.7 141.9,191.7ZM144.2,192.3 144.7,192.3 145.0,195.3 144.6,195.3Z"/></g>
<path id="cg" fill="none" stroke="url(#gg)" stroke-width="2.3" d="M0.0,299.0C1.7,298.4 6.9,296.9 10.0,295.5C13.1,294.1 15.4,293.5 18.8,290.5C22.2,287.5 26.7,282.5 30.6,277.6C34.5,272.7 38.8,265.6 42.3,261.1C45.8,256.6 48.6,253.3 51.7,250.6C54.8,247.9 58.0,246.1 61.1,244.7C64.2,243.2 67.0,242.6 70.5,241.9C74.0,241.2 78.4,241.1 82.3,240.4C86.2,239.7 90.1,239.2 94.0,237.6C97.9,236.0 101.9,232.9 105.8,230.6C109.7,228.2 113.7,225.8 117.6,223.5C121.5,221.2 125.4,218.4 129.3,216.5C133.2,214.6 136.9,213.1 141.0,212.2C145.1,211.2 149.4,211.5 153.9,210.8C158.4,210.1 163.2,209.8 167.8,207.8C172.4,205.8 177.8,202.2 181.7,198.9C185.6,195.6 188.0,191.0 191.5,187.8C195.0,184.7 198.8,181.9 202.5,180.0C206.2,178.1 210.2,176.9 214.0,176.1C217.8,175.3 221.8,175.0 225.5,175.3C229.2,175.6 232.9,176.4 236.5,178.0C240.1,179.6 243.6,182.0 247.0,185.0C250.4,188.0 253.8,191.9 257.0,196.1C260.2,200.3 263.1,205.1 266.0,210.0C268.9,214.9 271.6,220.6 274.7,225.3C277.8,230.0 281.1,234.8 284.4,238.3C287.6,241.8 290.9,244.2 294.2,246.1C297.4,248.0 300.9,249.2 303.9,249.8C306.9,250.4 309.8,250.3 312.2,249.8C314.6,249.3 315.6,248.8 318.2,247.0"/>
<path id="cy" fill="none" stroke="url(#gy)" stroke-width="2.3" d="M0.0,300.0C2.0,299.2 7.9,297.8 11.8,295.2C15.7,292.6 19.6,289.5 23.5,284.6C27.4,279.7 31.4,273.1 35.3,265.8C39.2,258.6 43.1,247.9 47.0,241.1C50.9,234.2 54.9,228.4 58.8,224.7C62.7,221.0 66.6,219.9 70.5,218.8C74.4,217.7 78.4,217.9 82.3,218.3C86.2,218.7 90.1,219.8 94.0,221.2C97.9,222.6 101.9,224.8 105.8,227.0C109.7,229.2 113.7,231.9 117.6,234.1C121.5,236.3 125.4,238.4 129.3,240.0C133.2,241.6 137.4,242.8 141.0,243.7C144.6,244.6 147.8,245.1 151.1,245.3C154.4,245.5 157.6,245.5 160.8,244.7C164.1,243.9 167.1,243.1 170.6,240.6C174.1,238.1 178.1,233.8 181.7,229.4C185.3,225.0 188.5,218.8 192.0,214.2C195.5,209.6 198.8,205.1 202.5,201.7C206.2,198.3 210.6,195.6 214.5,193.9C218.4,192.2 222.6,191.6 226.1,191.3C229.6,191.0 232.1,191.2 235.4,192.0C238.7,192.8 242.6,193.8 246.0,196.3C249.4,198.8 253.1,202.6 256.0,207.2C258.9,211.8 260.7,217.9 263.6,223.9C266.5,229.9 270.1,237.3 273.3,243.3C276.6,249.3 279.9,255.7 283.1,260.0C286.4,264.3 289.6,266.8 292.8,268.9C296.0,271.0 299.3,271.9 302.5,272.5C305.7,273.1 309.6,272.8 312.2,272.7C314.8,272.6 315.6,272.4 318.2,271.7C320.8,270.9 324.5,269.8 327.6,268.2C330.7,266.6 333.9,264.5 337.0,262.3C340.1,260.1 343.6,257.2 346.4,254.8C349.2,252.5 348.4,252.3 354.0,248.2C359.6,244.1 370.7,236.0 380.0,230.0"/>
<path fill="none" stroke="url(#gg)" stroke-width="1.7" d="M318.2,247.0C320.8,245.2 324.3,242.5 327.6,238.8C330.9,235.1 335.0,229.2 337.8,225.0C340.6,220.8 342.2,217.4 344.2,213.7C346.2,210.0 348.4,205.7 350.0,202.8C351.6,199.9 352.4,198.6 353.8,196.4C355.2,194.2 356.7,191.5 358.3,189.4C359.9,187.3 361.8,185.2 363.5,183.6C365.2,182.0 366.7,180.7 368.6,179.7C370.5,178.7 372.9,178.2 375.0,177.8C377.1,177.4 378.7,177.4 381.4,177.2C384.1,177.0 386.0,177.0 391.0,176.4C396.0,175.8 405.3,174.8 411.6,173.5C417.9,172.2 422.4,169.8 428.7,168.4C435.0,167.0 442.6,166.1 449.2,165.3C455.8,164.6 462.6,164.9 468.0,163.9C473.4,162.9 477.4,161.5 481.7,159.1C486.0,156.7 489.9,153.2 493.6,149.6C497.3,146.0 500.5,140.9 503.9,137.6C507.3,134.3 510.8,131.7 514.2,129.7C517.6,127.7 521.0,126.4 524.4,125.6C527.8,124.8 533.0,124.8 534.7,124.6"/>
<path fill="none" stroke="url(#gy)" stroke-width="1.7" d="M380.0,230.0C389.3,224.0 401.0,216.8 410.0,212.0C419.0,207.2 428.1,204.0 433.8,201.5C439.5,199.0 440.3,197.9 444.0,196.8C447.7,195.7 452.3,195.4 456.0,194.7C459.7,193.9 462.9,194.1 466.3,192.3C469.7,190.5 473.4,187.5 476.5,183.8C479.6,180.1 482.5,174.9 485.1,170.1C487.7,165.2 489.7,160.1 492.0,154.7C494.3,149.3 496.5,143.0 498.8,137.6C501.1,132.2 503.0,126.8 505.6,122.2C508.2,117.6 511.4,113.6 514.2,110.2C517.1,106.8 520.4,103.8 522.7,101.7C525.0,99.6 526.9,98.3 527.8,97.6"/>
<line x1="632.8" y1="192.8" x2="734" y2="147" stroke="#d9d9d9" stroke-width="1"/>
<path d="M728.5,142 L740.5,142 733.6,152 Z" fill="#d4d4d4"/>
</svg>
<div class="t1">STRUCTURAL ADHESIVE TAPES MARKET</div>
<div class="t2">GLOBAL FORECAST TO 2028 (USD BN)</div>
<div class="cagr">CAGR OF</div>
<div class="big">4.1</div><div class="pct">%</div>
<div class="body"><div class="j">The global structural</div><div class="j">adhesive tapes market is</div><div class="j">expected to be worth USD</div><div class="j">13.0 billion by 2028,</div><div class="j">growing at a CAGR of 4.1%</div><div>during the forecast period.</div></div>

<div class="bar" style="left:354px;top:200px;height:161px;">
<div class="seg c5" style="top:0;height:4px"></div><div class="seg c4" style="top:4px;height:6px"></div><div class="seg c3" style="top:10px;height:41px"></div><div class="seg c2" style="top:51px;height:32px"></div><div class="seg c1" style="top:83px;height:78.5px"></div></div>
<div class="bar" style="left:548px;top:193px;height:168px;">
<div class="seg c5" style="top:0;height:3px"></div><div class="seg c4" style="top:3px;height:8px"></div><div class="seg c3" style="top:11px;height:42px"></div><div class="seg c2" style="top:53px;height:32px"></div><div class="seg c1" style="top:85px;height:83.5px"></div></div>
<div class="bar" style="left:742px;top:156px;height:205px;">
<div class="seg c5" style="top:0;height:4px"></div><div class="seg c4" style="top:4px;height:9px"></div><div class="seg c3" style="top:13px;height:50px"></div><div class="seg c2" style="top:63px;height:35px"></div><div class="seg c1" style="top:98px;height:107.5px"></div></div>
<div class="axis"></div>
<div class="vl" style="left:355.7px;top:183.1px">10.3</div>
<div class="vl" style="left:555px;top:180px">10.7</div>
<div class="vl" style="left:744px;top:129.2px">13.0</div>
<div class="yl" style="left:354px">2022</div>
<div class="yl" style="left:548px">2023</div>
<div class="yl" style="left:742px">2028</div>
<div class="badge">4.1%</div>
</div>
<div class="sq c1" style="left:322.3px"></div><div class="lg" style="left:334px">Asia Pacific</div>
<div class="sq c2" style="left:423.5px"></div><div class="lg" style="left:436px">Europe</div>
<div class="sq c3" style="left:493.5px"></div><div class="lg" style="left:506px">North America</div>
<div class="sq c4" style="left:616px"></div><div class="lg" style="left:628.3px;letter-spacing:.12px">South America</div>
<div class="sq c5" style="left:740px"></div><div class="lg" style="left:753.3px;letter-spacing:.2px">Middle East &amp; Africa</div>
</body></html>
